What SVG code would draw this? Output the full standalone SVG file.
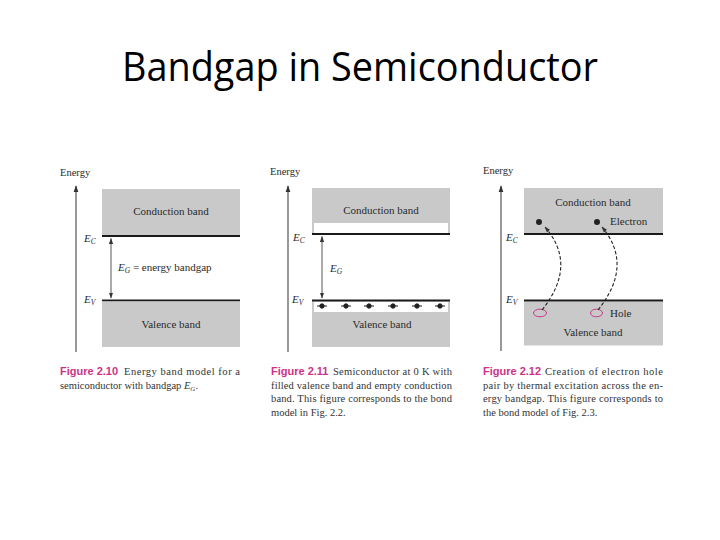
<svg xmlns="http://www.w3.org/2000/svg" width="720" height="540" viewBox="0 0 720 540">
<defs>
<style>
.band{fill:#c9c9c9}
.lvl{stroke:#1a1a1a;stroke-width:2.2}
.axis{stroke:#444;stroke-width:1.1;fill:none}
.gap{stroke:#444;stroke-width:0.9;fill:none}
.lab{font-family:"Liberation Serif",serif;font-size:11px;fill:#2a2a2a}
.sm{font-family:"Liberation Serif",serif;font-size:10.5px;fill:#2a2a2a}
.it{font-style:italic}
.cap{font-family:"Liberation Serif",serif;font-size:10.5px;fill:#333}
.fig{font-family:"Liberation Sans",sans-serif;font-weight:bold;font-size:11px;fill:#cc3388}
.dash{stroke:#222;stroke-width:1.1;fill:none;stroke-dasharray:3.5 2}
.hole{stroke:#cc3388;stroke-width:1;fill:none}
.title{font-family:"Open Sans",sans-serif;font-size:40px;fill:#000}
</style>
<marker id="ah" viewBox="0 0 10 10" refX="9" refY="5" markerWidth="7" markerHeight="7" markerUnits="userSpaceOnUse" orient="auto-start-reverse"><path d="M0,1.5 L10,5 L0,8.5 z" fill="#333"/></marker>
<marker id="ahs" viewBox="0 0 10 10" refX="9" refY="5" markerWidth="6" markerHeight="6" markerUnits="userSpaceOnUse" orient="auto-start-reverse"><path d="M0,1.5 L10,5 L0,8.5 z" fill="#333"/></marker>
</defs>
<rect width="720" height="540" fill="#fff"/>
<text class="title" x="360" y="81" text-anchor="middle" textLength="476" lengthAdjust="spacingAndGlyphs">Bandgap in Semiconductor</text>

<!-- Panel 1 -->
<g id="panel1">
  <g id="p1-conduction">
    <rect class="band" x="102" y="189" width="138" height="47"/>
    <text class="lab" x="171" y="215" text-anchor="middle">Conduction band</text>
  </g>
  <line id="p1-ec" class="lvl" x1="102" y1="236" x2="240" y2="236"/>
  <line id="p1-ev" class="lvl" x1="102" y1="300.5" x2="240" y2="300.5"/>
  <g id="p1-valence">
    <rect class="band" x="102" y="301.5" width="138" height="45.5"/>
    <text class="lab" x="171" y="328" text-anchor="middle">Valence band</text>
  </g>
  <text class="sm" x="60" y="176">Energy</text>
  <text class="lab" x="84" y="242"><tspan class="it">E</tspan><tspan class="it" dy="2" font-size="7.5">C</tspan></text>
  <text class="lab" x="84" y="303"><tspan class="it">E</tspan><tspan class="it" dy="2" font-size="7.5">V</tspan></text>
  <text class="lab" x="118" y="271"><tspan class="it">E</tspan><tspan class="it" dy="2" font-size="7.5">G</tspan><tspan dy="-2"> = energy bandgap</tspan></text>
</g>

<!-- Panel 2 -->
<g id="panel2">
  <g id="p2-conduction">
    <rect class="band" x="312" y="188" width="138" height="46"/>
    <rect x="314" y="223" width="134" height="10" fill="#fff"/>
    <text class="lab" x="381" y="214" text-anchor="middle">Conduction band</text>
  </g>
  <line id="p2-ec" class="lvl" x1="312" y1="234" x2="450" y2="234"/>
  <g id="p2-valence">
    <rect class="band" x="312" y="301.5" width="138" height="45.5"/>
    <rect x="314" y="302" width="134" height="10" fill="#fff"/>
    <text class="lab" x="382" y="328" text-anchor="middle">Valence band</text>
  </g>
  <line id="p2-ev" class="lvl" x1="312" y1="300.5" x2="450" y2="300.5"/>
  <g id="p2-electrons" fill="#222" stroke="#222" stroke-width="1">
    <line x1="317" y1="306" x2="327" y2="306"/><circle cx="322" cy="306" r="2.2"/>
    <line x1="341" y1="306" x2="351" y2="306"/><circle cx="346" cy="306" r="2.2"/>
    <line x1="364" y1="306" x2="374" y2="306"/><circle cx="369" cy="306" r="2.2"/>
    <line x1="388" y1="306" x2="398" y2="306"/><circle cx="393" cy="306" r="2.2"/>
    <line x1="412" y1="306" x2="422" y2="306"/><circle cx="417" cy="306" r="2.2"/>
    <line x1="435" y1="306" x2="445" y2="306"/><circle cx="440" cy="306" r="2.2"/>
  </g>
  <text class="sm" x="270" y="175">Energy</text>
  <text class="lab" x="293" y="241"><tspan class="it">E</tspan><tspan class="it" dy="2" font-size="7.5">C</tspan></text>
  <text class="lab" x="292" y="303"><tspan class="it">E</tspan><tspan class="it" dy="2" font-size="7.5">V</tspan></text>
  <text class="lab" x="330" y="272"><tspan class="it">E</tspan><tspan class="it" dy="2" font-size="7.5">G</tspan></text>
</g>

<!-- Panel 3 -->
<g id="panel3">
  <g id="p3-conduction">
    <rect class="band" x="524" y="188" width="139" height="46"/>
    <text class="lab" x="593" y="206" text-anchor="middle">Conduction band</text>
  </g>
  <line id="p3-ec" class="lvl" x1="524" y1="234" x2="663" y2="234"/>
  <g id="p3-valence">
    <rect class="band" x="524" y="301.5" width="139" height="44"/>
    <text class="lab" x="593" y="336" text-anchor="middle">Valence band</text>
  </g>
  <line id="p3-ev" class="lvl" x1="524" y1="300.5" x2="663" y2="300.5"/>
  <g id="p3-electrons" fill="#222">
    <circle cx="539" cy="222" r="3"/>
    <circle cx="597" cy="222" r="3"/>
  </g>
  <g id="p3-holes">
    <ellipse class="hole" cx="540" cy="313" rx="6.5" ry="3.8"/>
    <ellipse class="hole" cx="596.5" cy="313" rx="6" ry="3.8"/>
  </g>
  <text class="lab" x="610" y="225">Electron</text>
  <text class="lab" x="610" y="317">Hole</text>
  <text class="sm" x="483" y="174">Energy</text>
  <text class="lab" x="506" y="241"><tspan class="it">E</tspan><tspan class="it" dy="2" font-size="7.5">C</tspan></text>
  <text class="lab" x="506" y="303"><tspan class="it">E</tspan><tspan class="it" dy="2" font-size="7.5">V</tspan></text>
</g>

<!-- Connectors -->
<g id="connectors">
  <line class="axis" x1="76" y1="352" x2="76" y2="186" marker-end="url(#ah)"/>
  <line class="axis" x1="288" y1="352" x2="288" y2="186" marker-end="url(#ah)"/>
  <line class="axis" x1="501" y1="351" x2="501" y2="186" marker-end="url(#ah)"/>
  <line class="gap" x1="111" y1="238.5" x2="111" y2="298" marker-start="url(#ahs)" marker-end="url(#ahs)"/>
  <line class="gap" x1="322" y1="236.5" x2="322" y2="298" marker-start="url(#ahs)" marker-end="url(#ahs)"/>
  <path class="dash" d="M542 310 Q578 265 545 227" marker-end="url(#ahs)"/>
  <path class="dash" d="M598 310 Q634 265 602 227" marker-end="url(#ahs)"/>
</g>

<!-- Captions -->
<g id="caption1">
  <text class="fig" x="60" y="375">Figure 2.10</text>
  <text class="cap" x="124" y="375" textLength="116" lengthAdjust="spacing">Energy band model for a</text>
  <text class="cap" x="60" y="389">semiconductor with bandgap <tspan class="it">E</tspan><tspan class="it" dy="2" font-size="7">G</tspan><tspan dy="-2">.</tspan></text>
</g>
<g id="caption2">
  <text class="fig" x="271" y="375">Figure 2.11</text>
  <text class="cap" x="333" y="375" textLength="119" lengthAdjust="spacing">Semiconductor at 0 K with</text>
  <text class="cap" x="271" y="388.5" textLength="181" lengthAdjust="spacing">filled valence band and empty conduction</text>
  <text class="cap" x="271" y="402" textLength="181" lengthAdjust="spacing">band. This figure corresponds to the bond</text>
  <text class="cap" x="271" y="415.5">model in Fig. 2.2.</text>
</g>
<g id="caption3">
  <text class="fig" x="483" y="375">Figure 2.12</text>
  <text class="cap" x="545" y="375" textLength="118" lengthAdjust="spacing">Creation of electron hole</text>
  <text class="cap" x="483" y="388.5" textLength="180" lengthAdjust="spacing">pair by thermal excitation across the en-</text>
  <text class="cap" x="483" y="402" textLength="180" lengthAdjust="spacing">ergy bandgap. This figure corresponds to</text>
  <text class="cap" x="483" y="415.5">the bond model of Fig. 2.3.</text>
</g>
</svg>
